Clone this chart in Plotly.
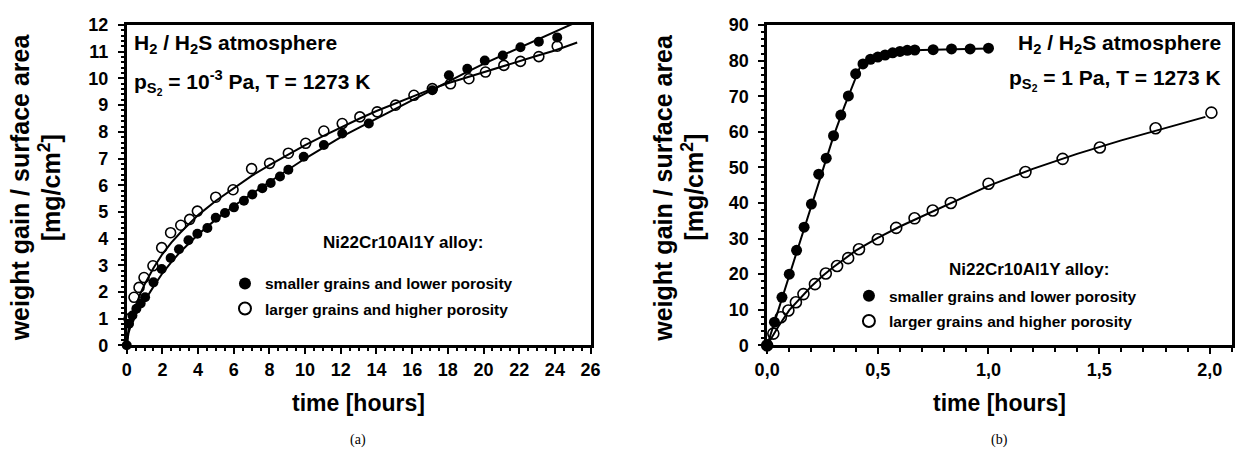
import plotly.graph_objects as go

# ---------------- Panel (a): p_S2 = 1e-3 Pa ----------------
a_small_t = [0, 0.13, 0.32, 0.54, 0.78, 1.03, 1.5, 1.96, 2.46, 2.93, 3.46, 3.96, 4.52, 4.99,
             5.51, 6.01, 6.57, 7.04, 7.6, 8.07, 8.59, 9.06, 9.92, 11.05, 12.08, 13.57,
             17.13, 18.06, 19.09, 20.07, 21.08, 22.07, 23.1, 24.13]
a_small_w = [0, 0.81, 1.12, 1.37, 1.57, 1.8, 2.36, 2.86, 3.27, 3.6, 3.94, 4.18, 4.4, 4.78,
             4.96, 5.17, 5.42, 5.65, 5.89, 6.08, 6.33, 6.58, 7.07, 7.51, 7.94, 8.31,
             9.56, 10.12, 10.36, 10.67, 10.86, 11.17, 11.38, 11.54]
a_large_t = [0.13, 0.41, 0.69, 0.97, 1.47, 1.96, 2.46, 3.03, 3.53, 3.96, 4.99, 5.96, 7.0, 8.01,
             9.06, 10.03, 11.05, 12.08, 13.07, 14.04, 15.07, 16.1, 17.13, 18.15, 19.18, 20.11,
             21.14, 22.07, 23.1, 24.13]
a_large_w = [0.99, 1.8, 2.17, 2.54, 2.98, 3.66, 4.22, 4.5, 4.72, 5.03, 5.55, 5.83, 6.62, 6.82,
             7.2, 7.57, 8.03, 8.31, 8.56, 8.75, 9.0, 9.37, 9.62, 9.8, 9.99, 10.24,
             10.49, 10.64, 10.82, 11.21]
a_fit_small_t = [0, 0.1, 0.25, 0.5, 0.75, 1, 1.5, 2, 2.5, 3, 4, 5, 6, 7, 8, 9, 10, 11, 12, 13,
                 14, 15, 16, 17, 18, 19, 20, 21, 22, 23, 24, 25]
a_fit_small_w = [0, 0.45, 0.8, 1.15, 1.42, 1.66, 2.2, 2.7, 3.12, 3.5, 4.15, 4.72, 5.22, 5.68,
                 6.12, 6.56, 7.0, 7.4, 7.8, 8.15, 8.5, 8.85, 9.2, 9.55, 9.9, 10.22, 10.55,
                 10.85, 11.15, 11.45, 11.75, 12.05]
a_fit_large_t = [0, 0.1, 0.25, 0.5, 0.75, 1, 1.5, 2, 2.5, 3, 4, 5, 6, 7, 8, 9, 10, 11, 12, 13,
                 14, 15, 16, 17, 18, 19, 20, 21, 22, 23, 24, 25.25]
a_fit_large_w = [0, 0.6, 1.0, 1.5, 1.92, 2.28, 2.9, 3.42, 3.85, 4.22, 4.88, 5.42, 5.9, 6.35,
                 6.75, 7.13, 7.5, 7.84, 8.17, 8.48, 8.78, 9.05, 9.3, 9.58, 9.82, 10.03, 10.24,
                 10.45, 10.65, 10.85, 11.05, 11.35]

# ---------------- Panel (b): p_S2 = 1 Pa ----------------
b_small_t = [0, 0.033, 0.067, 0.1, 0.133, 0.167, 0.2, 0.233, 0.267, 0.3, 0.333, 0.367, 0.4,
             0.433, 0.467, 0.5, 0.533, 0.567, 0.6, 0.633, 0.667, 0.75, 0.833, 0.917, 1.0]
b_small_w = [0, 6.5, 13.5, 20.0, 26.7, 33.2, 39.7, 48.1, 52.6, 58.9, 64.7, 70.1, 76.3,
             79.1, 80.4, 81.0, 81.6, 82.2, 82.6, 82.9, 83.0, 83.1, 83.3, 83.3, 83.5]
b_large_t = [0, 0.028, 0.062, 0.096, 0.13, 0.164, 0.216, 0.265, 0.316, 0.366, 0.415, 0.5,
             0.583, 0.666, 0.748, 0.83, 1.0, 1.167, 1.335, 1.503, 1.755, 2.007]
b_large_w = [0, 3.3, 7.9, 9.8, 12.1, 14.4, 17.2, 20.2, 22.3, 24.5, 27.0, 29.8,
             33.0, 35.7, 37.9, 40.0, 45.4, 48.7, 52.4, 55.6, 61.0, 65.4]
b_fit_small_t = [0, 0.05, 0.1, 0.15, 0.2, 0.25, 0.3, 0.35, 0.4, 0.42, 0.45, 0.5, 0.55, 0.6,
                 0.7, 0.8, 1.0]
b_fit_small_w = [0, 9.8, 19.8, 29.8, 39.8, 49.5, 58.8, 67.3, 75.5, 78.3, 80.0, 81.3, 82.1,
                 82.6, 83.0, 83.2, 83.4]
b_fit_large_t = [0, 0.05, 0.1, 0.15, 0.2, 0.25, 0.3, 0.4, 0.5, 0.6, 0.7, 0.8, 0.9, 1.0,
                 1.2, 1.4, 1.6, 1.8, 1.98]
b_fit_large_w = [0, 5.2, 9.9, 13.3, 16.6, 19.5, 22.0, 26.6, 30.2, 33.4, 36.3, 39.2, 42.0,
                 44.8, 49.6, 53.8, 57.6, 61.1, 64.2]

b_xticks = [0, 0.5, 1.0, 1.5, 2.0]
b_xticklabels = ["0,0", "0,5", "1,0", "1,5", "2,0"]

series_names = ["smaller grains and lower porosity", "larger grains and higher porosity"]
legend_title = "Ni22Cr10Al1Y alloy:"

FONT = "Liberation Sans, Arial, sans-serif"

# Empirical mapping from figure pixels to the photographed picture:
#   picture_x = SX * fig_x + OX ; picture_y = SY * fig_y + OY
SX, OX = 0.984, 11.0
SY, OY = 0.963, 7.5
W, H = 1248, 463


def px(x):  # picture x (px) -> paper fraction
    return min(1.0, max(0.0, ((x - OX) / SX) / W))


def py(y):  # picture y (px, from top) -> paper fraction
    return min(1.0, max(0.0, 1 - ((y - OY) / SY) / H))


fig = go.Figure()


def add_panel(fig, xa, ya, legend, fs_t, fs_w, fl_t, fl_w, s_t, s_w, l_t, l_w, msize):
    fig.add_trace(go.Scatter(x=fs_t, y=fs_w, mode="lines", line=dict(color="black", width=2),
                             xaxis=xa, yaxis=ya, showlegend=False, hoverinfo="skip"))
    fig.add_trace(go.Scatter(x=fl_t, y=fl_w, mode="lines", line=dict(color="black", width=2),
                             xaxis=xa, yaxis=ya, showlegend=False, hoverinfo="skip"))
    fig.add_trace(go.Scatter(x=l_t, y=l_w, mode="markers", name=series_names[1],
                             marker=dict(symbol="circle", size=msize, color="rgba(0,0,0,0)",
                                         line=dict(color="black", width=1.6)),
                             xaxis=xa, yaxis=ya, legend=legend, cliponaxis=False,
                             legendrank=2, legendgroup=legend + "l"))
    fig.add_trace(go.Scatter(x=s_t, y=s_w, mode="markers", name=series_names[0],
                             marker=dict(symbol="circle", size=msize, color="black"),
                             xaxis=xa, yaxis=ya, legend=legend, cliponaxis=False,
                             legendrank=1, legendgroup=legend + "s"))


add_panel(fig, "x", "y", "legend", a_fit_small_t, a_fit_small_w, a_fit_large_t, a_fit_large_w,
          a_small_t, a_small_w, a_large_t, a_large_w, 10)
add_panel(fig, "x2", "y2", "legend2", b_fit_small_t, b_fit_small_w, b_fit_large_t, b_fit_large_w,
          b_small_t, b_small_w, b_large_t, b_large_w, 11)

ydom = [py(345), py(22.7)]

axis_common = dict(showline=True, linecolor="black", linewidth=2.5, mirror=True,
                   ticks="outside", tickcolor="black", tickwidth=2, ticklen=6,
                   showgrid=False, zeroline=False,
                   tickfont=dict(family=FONT, size=18, color="black", weight="bold"))

legend_common = dict(xanchor="left", yanchor="top", bgcolor="rgba(0,0,0,0)", borderwidth=0,
                     traceorder="grouped", tracegroupgap=2, itemsizing="constant",
                     font=dict(family=FONT, size=15.5, weight="bold"))

fig.update_layout(
    width=W, height=H, autosize=False,
    margin=dict(l=0, r=0, t=0, b=0),
    paper_bgcolor="white", plot_bgcolor="white",
    font=dict(family=FONT, color="black"),
    xaxis=dict(domain=[px(125), px(590)], anchor="y", range=[0, 26], dtick=2,
               minor=dict(ticks="outside", dtick=0.5, ticklen=3, tickwidth=1.5, tickcolor="black"),
               **axis_common),
    yaxis=dict(domain=ydom, anchor="x", range=[0, 12], dtick=1, ticklabelstandoff=6,
               minor=dict(ticks="outside", dtick=0.2, ticklen=3, tickwidth=1.5, tickcolor="black"),
               **axis_common),
    xaxis2=dict(domain=[px(767), px(1233)], anchor="y2", range=[0, 2.1],
                tickvals=b_xticks, ticktext=b_xticklabels,
                minor=dict(ticks="outside", dtick=0.1, ticklen=4, tickwidth=1.5, tickcolor="black"),
                **axis_common),
    yaxis2=dict(domain=ydom, anchor="x2", range=[0, 90], dtick=10, ticklabelstandoff=6,
                minor=dict(ticks="outside", dtick=2, ticklen=3, tickwidth=1.5, tickcolor="black"),
                **axis_common),
    legend=dict(x=px(223.5), y=py(266), **legend_common),
    legend2=dict(x=px(849), y=py(278.5), **legend_common),
)


def ann(text, x, y, size, xanchor="center", yanchor="middle", angle=0, bold=True, family=FONT):
    fig.add_annotation(text=text, x=px(x), y=py(y), xref="paper", yref="paper",
                       xanchor=xanchor, yanchor=yanchor, showarrow=False, textangle=angle,
                       font=dict(family=family, size=size, color="black",
                                 weight="bold" if bold else "normal"))


# axis titles
for cx, ctx in [(18, 48), (663, 693)]:
    ann("weight gain / surface area", cx, 186, 25, angle=-90)
    ann("[mg/cm<sup>2</sup>]", ctx, 186, 25, angle=-90)
ann("time [hours]", 357, 403, 23)
ann("time [hours]", 1000, 403, 23)
ann("(a)", 357, 440, 14, bold=False, family="Liberation Serif, Times New Roman, serif")
ann("(b)", 1000, 440, 14, bold=False, family="Liberation Serif, Times New Roman, serif")

# legend headings
ann(legend_title, 402, 242, 17)
ann(legend_title, 1030, 269, 17)

# conditions text
ann("H<sub>2</sub> / H<sub>2</sub>S atmosphere", 130, 42, 21, xanchor="left")
ann("p<sub>S<sub>2</sub></sub> = 10<sup>-3</sup> Pa, T = 1273 K", 130, 80, 21, xanchor="left")
ann("H<sub>2</sub> / H<sub>2</sub>S atmosphere", 1224, 42, 21, xanchor="right")
ann("p<sub>S<sub>2</sub></sub> = 1 Pa, T = 1273 K", 1224, 78, 21, xanchor="right")

fig.write_html("out.html")
